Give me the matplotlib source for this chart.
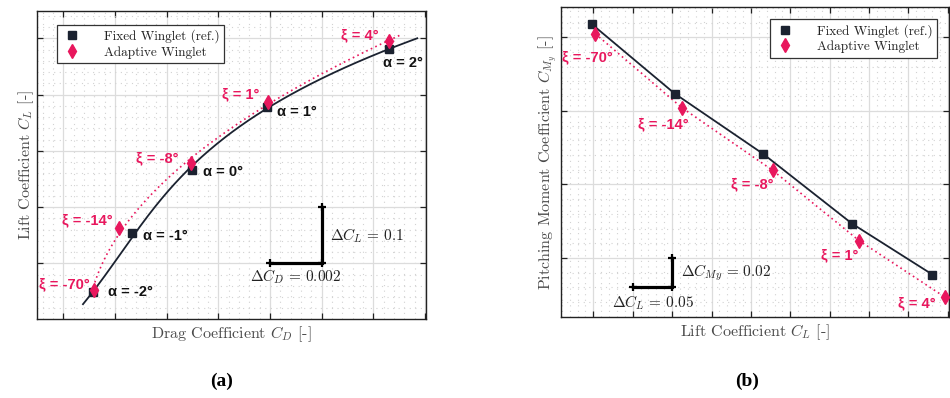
import numpy as np
import matplotlib
matplotlib.use('Agg')
import matplotlib.pyplot as plt
from matplotlib.ticker import MultipleLocator, AutoMinorLocator, NullFormatter

plt.rcParams['mathtext.fontset'] = 'cm'
plt.rcParams['font.family'] = ['cmr10', 'DejaVu Serif']
plt.rcParams['axes.formatter.use_mathtext'] = True

# data
alpha_labels = ['-2°', '-1°', '0°', '1°', '2°']
xi_labels = ['-70°', '-14°', '-8°', '1°', '4°']

cd_fixed = [0.02115, 0.02266, 0.02498, 0.02788, 0.03261]
cl_fixed = [0.2484, 0.3533, 0.4659, 0.5784, 0.6804]
cmy_fixed = [-0.04118, -0.08826, -0.12938, -0.17666, -0.21126]

cd_adapt = [0.02117, 0.02214, 0.02495, 0.02792, 0.03262]
cl_adapt = [0.2525, 0.3622, 0.4778, 0.5873, 0.6957]
cmy_adapt = [-0.04756, -0.09776, -0.1405, -0.1882, -0.2264]

# fit range of the drag polars
cl_range_fixed = (0.2276, 0.700)
cl_range_adapt = (0.2406, 0.7059)

# scale bars
d_cd, d_cl_a = 0.002, 0.1
d_cl_b, d_cmy = 0.05, 0.02

dark = '#1b2230'
pink = '#e8175d'
grey = '#4a4a4a'

fig = plt.figure(figsize=(9.5, 3.98), dpi=100)
ax1 = fig.add_axes([37.3/950, (398-319)/398, 388.4/950, 308.3/398])
ax2 = fig.add_axes([561/950, (398-317.3)/398, 388/950, 310/398])


def style(ax, xstep, ystep):
    ax.xaxis.set_major_locator(MultipleLocator(xstep))
    ax.yaxis.set_major_locator(MultipleLocator(ystep))
    ax.xaxis.set_minor_locator(AutoMinorLocator(5))
    ax.yaxis.set_minor_locator(AutoMinorLocator(5))
    ax.xaxis.set_major_formatter(NullFormatter())
    ax.yaxis.set_major_formatter(NullFormatter())
    ax.tick_params(which='major', direction='in', length=4, width=0.9, pad=0,
                   top=True, right=True, color='#222222')
    ax.tick_params(which='minor', length=0, pad=0)
    ax.grid(which='major', color='#dcdcdc', lw=0.9)
    ax.grid(which='minor', color='#d2d2d2', lw=0.8, ls=(0, (1, 4)))
    ax.set_axisbelow(True)
    for s in ax.spines.values():
        s.set_color('#222222')
        s.set_linewidth(1.0)


lab_kw = dict(fontsize=10.5, fontweight='bold', family=['Liberation Sans', 'DejaVu Sans'])
leg_kw = dict(fontsize=9.5, fancybox=False, framealpha=1, edgecolor='#333333',
              handlelength=1.6, handletextpad=1.6, borderpad=0.35, labelspacing=0.2,
              borderaxespad=0)

# ---------------- (a) drag polar
style(ax1, 0.002, 0.1)
ax1.set_xlim(0.01899, 0.03403)
ax1.set_ylim(0.2013, 0.749)

pf = np.polyfit(cl_fixed, cd_fixed, 3)
cl_f = np.linspace(*cl_range_fixed, 200)
ax1.plot(np.polyval(pf, cl_f), cl_f, color=dark, lw=1.3, zorder=3)
pa = np.polyfit(cl_adapt, cd_adapt, 3)
cl_a = np.linspace(*cl_range_adapt, 200)
ax1.plot(np.polyval(pa, cl_a), cl_a, color=pink, lw=1.2, ls=(0, (1, 2)), zorder=3)

ax1.plot(cd_fixed, cl_fixed, 's', color=dark, ms=6, zorder=4, label='Fixed Winglet (ref.)')
ax1.plot(cd_adapt, cl_adapt, 'd', color=pink, ms=7, zorder=5, label='Adaptive Winglet')

a_off = [(11, 0), (8, -1.5), (8, -1.5), (7, -4), (-4, -10)]
for x, y, t, o in zip(cd_fixed, cl_fixed, alpha_labels, a_off):
    ax1.annotate('α = ' + t, (x, y), xytext=o, textcoords='offset points',
                 ha='left', va='center', color='#111111', **lab_kw)
x_off = [(-3, 4), (-4, 6), (-9, 4), (-6, 5), (-8, 4)]
for x, y, t, o in zip(cd_adapt, cl_adapt, xi_labels, x_off):
    ax1.annotate('ξ = ' + t, (x, y), xytext=o, textcoords='offset points',
                 ha='right', va='center', color=pink, **lab_kw)

# scale bar
x0, y0 = 0.028, 0.3
ax1.plot([x0, x0 + d_cd, x0 + d_cd], [y0, y0, y0 + d_cl_a], color='black', lw=2.3,
         solid_joinstyle='miter', zorder=4)
ax1.plot([x0, x0 + d_cd, x0 + d_cd], [y0, y0, y0 + d_cl_a], '+', color='black',
         ms=6, mew=1.6, zorder=4)
ax1.text(x0 + d_cd + 0.00033, y0 + d_cl_a / 2, r'$\Delta C_L\,=\,%g$' % d_cl_a,
         fontsize=11, va='center', ha='left', color='#222222')
ax1.text(x0 + d_cd / 2, y0 - 0.0244, r'$\Delta C_D\,=\,%g$' % d_cd,
         fontsize=11, va='center', ha='center', color='#222222')

ax1.set_xlabel(r'Drag Coefficient $C_D$ [-]', fontsize=11.5, color=grey, labelpad=4)
ax1.set_ylabel(r'Lift Coefficient $C_L$ [-]', fontsize=11.5, color=grey, labelpad=1)
leg = ax1.legend(loc='upper left', bbox_to_anchor=(0.0514, 0.9536), **leg_kw)
leg.get_frame().set_linewidth(0.9)
for t in leg.get_texts():
    t.set_color('#222222')

# ---------------- (b) pitching moment
style(ax2, 0.05, 0.05)
ax2.set_xlim(0.2090, 0.7014)
ax2.set_ylim(-0.2403, -0.0296)

ax2.plot(cl_fixed, cmy_fixed, '-', color=dark, lw=1.3, zorder=3)
ax2.plot(cl_adapt, cmy_adapt, color=pink, lw=1.2, ls=(0, (1, 2)), zorder=3)
ax2.plot(cl_fixed, cmy_fixed, 's', color=dark, ms=6, zorder=4, label='Fixed Winglet (ref.)')
ax2.plot(cl_adapt, cmy_adapt, 'd', color=pink, ms=7, zorder=5, label='Adaptive Winglet')

x_off2 = [(-6, -17), (-13.6, -11.7), (-15, -10), (-13.7, -10.8), (-20, -4.3)]
for x, y, t, o in zip(cl_adapt, cmy_adapt, xi_labels, x_off2):
    ax2.annotate('ξ = ' + t, (x, y), xytext=o, textcoords='offset points',
                 ha='center', va='center', color=pink, **lab_kw)

x0, y0 = 0.30, -0.22
ax2.plot([x0, x0 + d_cl_b, x0 + d_cl_b], [y0, y0, y0 + d_cmy], color='black', lw=2.3,
         solid_joinstyle='miter', zorder=4)
ax2.plot([x0, x0 + d_cl_b, x0 + d_cl_b], [y0, y0, y0 + d_cmy], '+', color='black',
         ms=6, mew=1.6, zorder=4)
ax2.text(x0 + d_cl_b + 0.0113, y0 + d_cmy / 2 + 0.0003, r'$\Delta C_{My}\,=\,%g$' % d_cmy,
         fontsize=11, va='center', ha='left', color='#222222')
ax2.text(x0 + 0.0257, y0 - 0.0105, r'$\Delta C_L\,=\,%g$' % d_cl_b,
         fontsize=11, va='center', ha='center', color='#222222')

ax2.set_xlabel(r'Lift Coefficient $C_L$ [-]', fontsize=11.5, color=grey, labelpad=4)
ax2.set_ylabel(r'Pitching Moment Coefficient $C_{M_y}$ [-]', fontsize=11.5, color=grey,
               labelpad=1)
leg2 = ax2.legend(loc='upper right', bbox_to_anchor=(0.970, 0.9613), **leg_kw)
leg2.get_frame().set_linewidth(0.9)
for t in leg2.get_texts():
    t.set_color('#222222')

fig.text(221.7/950, 1 - 381.7/398, '(a)', fontsize=14, fontweight='bold',
         family='Liberation Serif', ha='center', va='center')
fig.text(747.5/950, 1 - 381.7/398, '(b)', fontsize=14, fontweight='bold',
         family='Liberation Serif', ha='center', va='center')

fig.savefig('out.png', dpi=100)
